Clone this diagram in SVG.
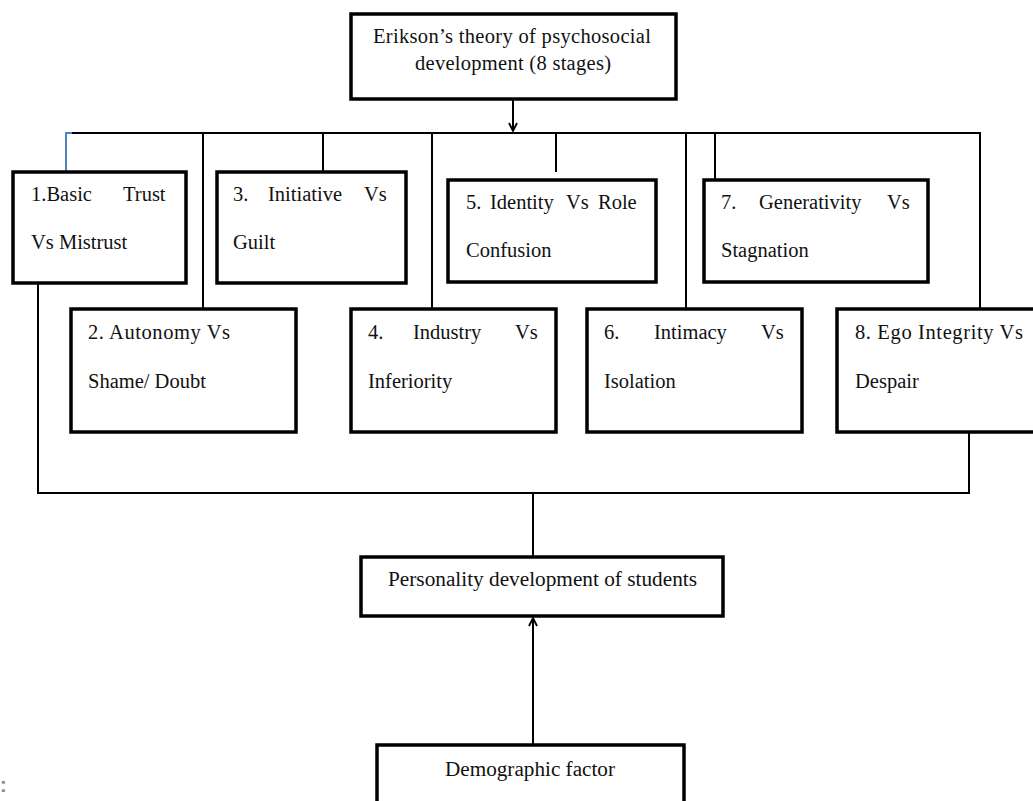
<svg xmlns="http://www.w3.org/2000/svg" width="1033" height="801" viewBox="0 0 1033 801">
<style>
.box{fill:#fff;stroke:#000;stroke-width:3.5}
.ln{fill:none;stroke:#000;stroke-width:2}
.t{font-family:"Liberation Serif","Times New Roman",serif;font-size:20.5px;fill:#111}
</style>
<defs>
<marker id="ah" viewBox="0 0 10 10" refX="9" refY="5" markerWidth="10" markerHeight="10" markerUnits="userSpaceOnUse" orient="auto">
<path d="M1,1 L9,5 L1,9" fill="none" stroke="#000" stroke-width="1.8"/>
</marker>
</defs>
<rect width="1033" height="801" fill="#fff"/>
<g id="connectors">
<path class="ln" d="M513,100 V131" marker-end="url(#ah)"/>
<path class="ln" d="M72,133 H980 V308" stroke-width="2.5"/>
<path d="M72,133 H66 V171" fill="none" stroke="#4f81bd" stroke-width="2"/>
<path class="ln" d="M203,133 V308"/>
<path class="ln" d="M323,133 V171"/>
<path class="ln" d="M432,133 V308"/>
<path class="ln" d="M556,133 V172"/>
<path class="ln" d="M686,133 V308"/>
<path class="ln" d="M715,133 V179"/>
<path class="ln" d="M38,284 V493 H969 V433"/>
<path class="ln" d="M533,493 V556"/>
<path class="ln" d="M533,744 V618" marker-end="url(#ah)"/>
</g>
<g id="top">
<rect class="box" x="351" y="14" width="325" height="85"/>
<text class="t" x="373" y="43" textLength="278" lengthAdjust="spacing">Erikson’s theory of psychosocial</text>
<text class="t" x="415" y="70" textLength="196" lengthAdjust="spacing">development (8 stages)</text>
</g>
<g id="stage1">
<rect class="box" x="13" y="172" width="173" height="111"/>
<text class="t" y="201"><tspan x="31">1.Basic</tspan><tspan x="123">Trust</tspan></text>
<text class="t" x="31" y="249">Vs Mistrust</text>
</g>
<g id="stage3">
<rect class="box" x="217" y="172" width="189" height="111"/>
<text class="t" y="201"><tspan x="233">3.</tspan><tspan x="268">Initiative</tspan><tspan x="364">Vs</tspan></text>
<text class="t" x="233" y="249">Guilt</text>
</g>
<g id="stage5">
<rect class="box" x="448" y="180" width="208" height="102"/>
<text class="t" y="209"><tspan x="466">5.</tspan><tspan x="490">Identity</tspan><tspan x="566">Vs</tspan><tspan x="598">Role</tspan></text>
<text class="t" x="466" y="257">Confusion</text>
</g>
<g id="stage7">
<rect class="box" x="704" y="180" width="224" height="102"/>
<text class="t" y="209"><tspan x="721">7.</tspan><tspan x="759">Generativity</tspan><tspan x="887">Vs</tspan></text>
<text class="t" x="721" y="257">Stagnation</text>
</g>
<g id="stage2">
<rect class="box" x="71" y="309" width="225" height="123"/>
<text class="t" x="88" y="339" textLength="142" lengthAdjust="spacing">2. Autonomy Vs</text>
<text class="t" x="88" y="388">Shame/ Doubt</text>
</g>
<g id="stage4">
<rect class="box" x="351" y="309" width="205" height="123"/>
<text class="t" y="339"><tspan x="368">4.</tspan><tspan x="413">Industry</tspan><tspan x="515">Vs</tspan></text>
<text class="t" x="368" y="388">Inferiority</text>
</g>
<g id="stage6">
<rect class="box" x="587" y="309" width="215" height="123"/>
<text class="t" y="339"><tspan x="604">6.</tspan><tspan x="654">Intimacy</tspan><tspan x="761">Vs</tspan></text>
<text class="t" x="604" y="388">Isolation</text>
</g>
<g id="stage8">
<rect class="box" x="837" y="309" width="210" height="123"/>
<text class="t" x="855" y="339" textLength="168" lengthAdjust="spacing">8. Ego Integrity Vs</text>
<text class="t" x="855" y="388">Despair</text>
</g>
<g id="personality">
<rect class="box" x="361" y="557" width="362" height="59"/>
<text class="t" x="388" y="586" textLength="309" lengthAdjust="spacingAndGlyphs">Personality development of students</text>
</g>
<g id="demographic">
<rect class="box" x="377" y="745" width="307" height="70"/>
<text class="t" x="445" y="776" textLength="170" lengthAdjust="spacingAndGlyphs">Demographic factor</text>
</g>
<text x="0" y="792" font-family="Liberation Sans, sans-serif" font-size="20" font-weight="bold" fill="#888">:</text>
</svg>
